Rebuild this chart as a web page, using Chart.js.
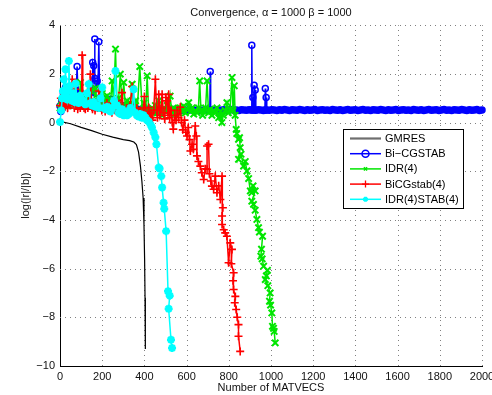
<!DOCTYPE html>
<html>
<head>
<meta charset="utf-8">
<script src="https://cdn.jsdelivr.net/npm/chart.js@4.4.1/dist/chart.umd.min.js"></script>
<style>
html, body { margin: 0; padding: 0; background: #fff; }
#wrap { width: 492px; height: 395px; }
</style>
</head>
<body>
<div id="wrap"><canvas id="conv"></canvas></div>
<script>
// residual histories, [matvecs, log10(|r|/|b|)]
const gmresPts = [
  [0,0.05],[50,-0.05],[100,-0.2],[150,-0.33],[200,-0.48],[250,-0.6],[300,-0.7],[330,-0.74],[350,-0.8],
  [362,-0.9],[372,-1.2],[381,-1.77],[388,-2.4],[394,-3.1],[398,-4.2],[401,-5.6],[403,-7.2],[404,-8.4],[405,-9.3]
];

const bicgstabPts = [
  [0,0.68],[4,0.45],[8,0.9],[12,0.6],[16,1.2],[20,0.8],[26,1.44],[30,0.9],[36,1.1],[42,0.8],[48,1.3],[54,0.9],
  [60,1.1],[66,0.8],[72,1.4],[76,1.0],[81,2.3],[86,1.0],[92,0.8],[98,1.2],[104,0.9],[110,0.7],[116,1.0],[122,0.8],
  [128,1.1],[134,0.9],[140,1.2],[146,0.8],[152,1.3],[155,2.47],[160,2.33],[163,1.6],[165,3.43],[165,1.81],[170,1.2],
  [176,1.71],[180,1.4],[184,3.32],[188,1.0],[194,0.8],[200,0.9],[206,0.7],[215,0.96],[222,0.6],[230,0.8],[239,0.96],
  [246,0.6],[254,0.7],[262,0.55],[270,0.75],[278,0.6],[286,0.5],[294,0.7],[302,0.55],[310,0.6],[318,0.5],[326,0.65],
  [334,0.55],[342,0.5],[350,0.6],[358,0.5],[368,0.55],
  [380,0.52],[392,0.5],[404,0.54],[416,0.51],[428,0.53],[440,0.49],[452,0.52],[464,0.55],[476,0.5],[488,0.52],
  [500,0.53],[512,0.5],[524,0.52],[536,0.54],[548,0.51],[560,0.52],[572,0.5],[584,0.53],[596,0.52],[608,0.5],
  [620,0.54],[632,0.52],[644,0.51],[656,0.53],[668,0.5],[680,0.52],[692,0.54],[704,0.51],[710,0.52],[712,2.1],
  [714,0.52],[728,0.5],[740,0.53],[752,0.52],[764,0.51],[776,0.53],[788,0.5],[800,0.52],[812,0.54],[824,0.51],
  [836,0.52],[848,0.5],[860,0.53],[872,0.52],[884,0.51],[896,0.53],[906,0.52],[909,3.18],[911,0.52],[914,1.03],
  [917,0.52],[920,1.53],[923,0.52],[925,1.34],[928,0.51],[940,0.53],[952,0.52],[964,0.5],[971,0.52],[973,1.4],
  [975,0.52],[977,1.03],[980,0.52],[992,0.51],[1004,0.53],[1016,0.52],[1028,0.5],[1040,0.53],[1052,0.51],
  [1064,0.54],[1076,0.52],[1088,0.5],[1100,0.53],[1112,0.52],[1124,0.51],[1136,0.54],[1148,0.52],[1160,0.5],
  [1172,0.53],[1184,0.51],[1196,0.52],[1208,0.54],[1220,0.5],[1232,0.52],[1244,0.53],[1256,0.51],[1268,0.52],
  [1280,0.5],[1292,0.54],[1304,0.52],[1316,0.51],[1328,0.53],[1340,0.5],[1352,0.52],[1364,0.54],[1376,0.51],
  [1388,0.52],[1400,0.53],[1412,0.5],[1424,0.52],[1436,0.54],[1448,0.51],[1460,0.52],[1472,0.5],[1484,0.53],
  [1496,0.52],[1508,0.51],[1520,0.54],[1532,0.52],[1544,0.5],[1556,0.53],[1568,0.51],[1580,0.52],[1592,0.54],
  [1604,0.5],[1616,0.52],[1628,0.53],[1640,0.51],[1652,0.52],[1664,0.5],[1676,0.54],[1688,0.52],[1700,0.51],
  [1712,0.53],[1724,0.5],[1736,0.52],[1748,0.54],[1760,0.51],[1772,0.52],[1784,0.53],[1796,0.5],[1808,0.52],
  [1820,0.54],[1832,0.51],[1844,0.52],[1856,0.5],[1868,0.53],[1880,0.52],[1892,0.51],[1904,0.54],[1916,0.52],
  [1928,0.5],[1940,0.53],[1952,0.51],[1964,0.52],[1976,0.54],[1988,0.5],[2000,0.52]
];

const idrPts = [
  [0,0.6],[6,0.9],[12,0.7],[20,1.0],[28,0.8],[36,1.2],[44,0.7],[52,0.9],[60,1.3],[68,0.8],[76,1.1],[84,0.7],
  [92,1.0],[97,1.65],[104,0.8],[112,1.2],[120,0.7],[128,1.0],[136,0.8],[144,1.3],[152,0.7],[160,0.9],[168,1.4],
  [176,0.8],[184,1.0],[192,0.7],[200,1.2],[208,0.8],[216,0.9],[224,1.1],[232,0.7],[240,0.9],[247,1.71],[254,0.8],
  [263,3.02],[270,0.7],[278,1.0],[286,1.99],[294,0.7],[302,1.65],[310,0.6],[318,0.9],[326,0.5],[334,0.8],
  [342,1.58],[350,0.6],[358,0.9],[366,0.5],[378,2.3],[390,0.5],[398,0.8],[406,0.4],[413,1.92],[420,0.5],
  [428,0.3],[436,0.6],[444,0.4],[452,0.7],[460,0.4],[468,0.9],[476,0.5],[484,0.3],[492,0.6],[500,0.45],[508,0.7],
  [515,0.5],[522,1.09],[530,0.4],[538,0.6],[546,0.35],[554,0.55],[562,0.4],[570,0.6],[578,0.45],[586,0.68],
  [594,0.4],[602,0.55],[610,0.82],[618,0.45],[626,0.6],[634,0.35],[642,0.5],[650,0.4],[656,0.6],[662,1.71],
  [668,0.5],[676,0.3],[684,0.45],[690,0.6],[697,1.71],[704,0.4],[712,0.55],[720,0.3],[728,0.5],[736,0.4],
  [744,0.6],[752,0.2],[760,0.45],[767,0.0],[774,0.3],[782,0.5],[791,0.82],[798,0.4],[806,0.55],[815,1.85],
  [820,0.5],[826,1.51],[830,0.3],[835,-0.28],[838,-0.45],[846,-0.69],[851,-0.62],[854,-1.03],[846,-1.51],
  [858,-1.3],[870,-1.79],[878,-1.6],[886,-1.99],[894,-2.3],[902,-2.81],[909,-2.88],[915,-2.6],[925,-2.81],
  [909,-3.23],[917,-3.36],[925,-3.6],[933,-3.98],[941,-4.32],[945,-4.5],[960,-4.67],[955,-5.2],[952,-5.49],
  [958,-5.6],[965,-5.9],[983,-6.07],[978,-6.3],[973,-6.45],[985,-6.7],[996,-7.0],[993,-7.34],[998,-7.5],
  [1004,-7.82],[1007,-8.37],[1012,-8.45],[1015,-8.58],[1020,-9.05]
];

const bicgstab4Pts = [
  [0,0.7],[4,1.0],[8,0.6],[12,0.9],[16,0.75],[20,1.2],[24,0.65],[30,0.9],[36,0.6],[42,1.1],[48,0.7],[54,0.85],
  [58,1.78],[62,0.8],[68,0.6],[73,1.37],[78,0.7],[84,0.55],[90,0.9],[96,0.6],[102,0.8],[105,2.77],[108,1.0],
  [114,0.6],[120,0.55],[126,0.8],[132,0.6],[138,0.9],[144,1.99],[148,0.9],[154,0.55],[160,0.7],[166,0.5],[172,0.8],
  [178,0.6],[184,1.3],[190,0.6],[198,0.5],[206,0.7],[214,0.45],[222,0.8],[230,0.5],[238,0.6],[246,0.4],[254,0.7],
  [262,0.5],[270,0.9],[278,0.5],[286,0.6],[294,1.23],[300,0.5],[308,0.4],[316,0.6],[324,0.45],[332,0.7],[342,1.48],
  [348,0.5],[356,0.35],[364,0.6],[372,0.4],[380,0.5],[388,0.3],[396,0.6],[400,1.07],[406,0.4],[414,0.3],[420,0.62],
  [426,0.2],[432,0.4],[438,0.1],[444,0.5],[452,1.78],[458,0.5],[462,0.2],[468,1.16],[474,0.3],[480,0.6],[484,1.16],
  [490,0.4],[496,0.15],[502,1.03],[507,0.89],[512,0.3],[515,1.16],[520,0.2],[526,0.5],[532,0.0],[537,-0.27],
  [544,0.3],[550,0.1],[556,0.5],[562,0.2],[570,0.63],[576,0.0],[582,-0.3],[590,0.1],[596,-0.4],[602,-0.55],
  [608,-0.2],[614,-0.7],[618,-1.17],[626,-0.89],[632,-1.1],[641,-0.14],[646,-0.55],[649,-1.37],[656,-1.6],
  [665,-1.79],[672,-2.06],[681,-2.34],[688,-1.9],[697,-1.92],[697,-0.96],[704,-0.89],[708,-2.1],[715,-2.4],
  [720,-2.61],[728,-2.74],[736,-2.2],[744,-2.88],[752,-2.6],[760,-3.16],[768,-2.2],[768,-3.84],[772,-3.5],
  [768,-4.19],[776,-4.4],[783,-4.53],[791,-4.67],[799,-5.76],[807,-4.94],[815,-5.21],[812,-5.8],[823,-6.17],
  [820,-6.5],[823,-6.86],[831,-7.14],[828,-7.4],[835,-7.68],[840,-8.0],[846,-8.3],[846,-8.78],[854,-9.4]
];

const idrstabPts = [
  [0,0.02],[6,0.5],[10,1.0],[14,1.3],[18,1.78],[22,1.1],[26,2.19],[30,1.2],[34,0.95],[38,1.4],[42,2.53],[46,1.5],
  [50,1.0],[56,0.9],[62,1.2],[68,0.85],[74,1.6],[80,0.95],[88,0.8],[96,1.1],[104,0.85],[112,0.9],[120,0.75],
  [128,1.2],[136,1.58],[144,0.8],[152,0.7],[160,0.85],[168,0.65],[176,0.7],[184,0.6],[192,1.0],[200,1.44],
  [208,0.6],[216,0.55],[224,0.65],[232,0.5],[240,0.45],[248,0.6],[256,0.9],[263,2.12],[270,0.7],[278,0.4],
  [286,0.35],[294,0.55],[302,0.3],[310,0.45],[318,0.3],[326,0.35],[334,0.6],[342,0.5],[349,1.37],[356,0.4],
  [364,0.3],[372,0.25],[380,0.35],[388,0.2],[396,0.3],[405,0.2],[412,0.1],[420,0.05],[430,-0.1],[436,-0.2],
  [444,-0.41],[452,-0.6],[457,-0.89],[468,-1.85],[472,-1.89],[480,-2.2],[484,-2.67],[491,-3.29],[494,-3.54],
  [503,-4.46],[512,-6.93],[520,-7.11],[515,-7.65],[526,-8.92],[531,-9.26]
];

const seriesNames = ['GMRES', 'Bi\u2212CGSTAB', 'IDR(4)', 'BiCGstab(4)', 'IDR(4)STAB(4)'];
const seriesColors = ['#000000', '#0000ff', '#00e600', '#ff0000', '#00ffff'];
const xTickStep = 200, yTickStep = 2;

const FONT = '"Liberation Sans", Arial, Helvetica, sans-serif';
const TEXT = '#111';
const BLUE = seriesColors[1];

const toXY = pts => pts.map(p => ({ x: p[0], y: p[1] }));

// small marker used in the boxed legend
function drawMarker(ctx, style, x, y, r) {
  ctx.beginPath();
  if (style === 'circle') {
    ctx.arc(x, y, r, 0, Math.PI * 2);
  }
  if (style === 'cross' || style === 'star') {
    ctx.moveTo(x - r, y); ctx.lineTo(x + r, y);
    ctx.moveTo(x, y - r); ctx.lineTo(x, y + r);
  }
  if (style === 'crossRot' || style === 'star') {
    const d = r * 0.72;
    ctx.moveTo(x - d, y - d); ctx.lineTo(x + d, y + d);
    ctx.moveTo(x - d, y + d); ctx.lineTo(x + d, y - d);
  }
  ctx.stroke();
}

// dotted grid at every tick, drawn under the curves
const dottedGrid = {
  id: 'dottedGrid',
  beforeDatasetsDraw(chart) {
    const { ctx, chartArea: a, scales } = chart;
    ctx.save();
    ctx.strokeStyle = '#808080';
    ctx.lineWidth = 1;
    ctx.setLineDash([1, 4]);
    scales.x.ticks.forEach(t => {
      const px = Math.round(scales.x.getPixelForValue(t.value)) + 0.5;
      if (t.value === scales.x.min) return;
      ctx.beginPath(); ctx.moveTo(px, a.bottom); ctx.lineTo(px, a.top); ctx.stroke();
    });
    scales.y.ticks.forEach(t => {
      const py = Math.round(scales.y.getPixelForValue(t.value)) + 0.5;
      if (t.value === scales.y.min) return;
      ctx.beginPath(); ctx.moveTo(a.left, py); ctx.lineTo(a.right, py); ctx.stroke();
    });
    ctx.restore();
  }
};

const boxLegend = {
  id: 'boxLegend',
  afterDraw(chart) {
    const ctx = chart.ctx;
    const x0 = 343, y0 = 129, w = 120, h = 79;
    ctx.save();
    ctx.fillStyle = '#fff';
    ctx.fillRect(x0, y0, w, h);
    ctx.strokeStyle = '#000';
    ctx.lineWidth = 1;
    ctx.strokeRect(x0 + 0.5, y0 + 0.5, w, h);
    ctx.font = '11px ' + FONT;
    ctx.textBaseline = 'middle';
    chart.data.datasets.forEach((ds, i) => {
      const y = y0 + 9.5 + i * 15.2;
      ctx.strokeStyle = ds.legendLine || ds.borderColor;
      ctx.lineWidth = i === 0 ? 2.2 : 1.5;
      ctx.beginPath();
      ctx.moveTo(x0 + 7, y);
      ctx.lineTo(x0 + 38, y);
      ctx.stroke();
      if (ds.pointRadius > 0) {
        ctx.strokeStyle = ds.borderColor;
        ctx.lineWidth = ds.legendMarker.w;
        drawMarker(ctx, ds.pointStyle, x0 + 22.5, y, ds.legendMarker.r);
      }
      ctx.fillStyle = '#000';
      ctx.fillText(ds.label, x0 + 42, y + 0.5);
    });
    ctx.restore();
  }
};

const datasets = [
  {
    label: seriesNames[0], data: toXY(gmresPts), order: 5,
    borderColor: seriesColors[0], borderWidth: 1.2, pointRadius: 0, legendLine: '#6e6e6e'
  },
  {
    label: seriesNames[1], data: toXY(bicgstabPts), order: 4,
    borderColor: BLUE, borderWidth: 1.5,
    pointStyle: 'circle', pointRadius: 3, pointBorderWidth: 1.5, pointBorderColor: BLUE,
    // the tightly packed circles along the plateau merge into a solid band
    pointBackgroundColor: c => (c.raw && c.raw.x >= 370 && c.raw.y < 0.6) ? BLUE : 'rgba(0,0,0,0)',
    legendMarker: { r: 3.5, w: 1.5 }
  },
  {
    label: seriesNames[2], data: toXY(idrPts), order: 3,
    borderColor: seriesColors[2], borderWidth: 1.5,
    pointStyle: 'crossRot', pointRadius: 4.5, pointBorderWidth: 2,
    pointBorderColor: seriesColors[2],
    legendMarker: { r: 2.2, w: 1.5 }
  },
  {
    label: seriesNames[3], data: toXY(bicgstab4Pts), order: 2,
    borderColor: seriesColors[3], borderWidth: 1.5,
    pointStyle: 'cross', pointRadius: 4, pointBorderWidth: 1.6,
    pointBorderColor: seriesColors[3],
    legendMarker: { r: 3.5, w: 1.3 }
  },
  {
    label: seriesNames[4], data: toXY(idrstabPts), order: 1,
    borderColor: seriesColors[4], borderWidth: 1.5,
    pointStyle: 'star', pointRadius: 4, pointBorderWidth: 2.5,
    pointBorderColor: seriesColors[4],
    legendMarker: { r: 2.5, w: 2 }
  }
];

new Chart(document.getElementById('conv'), {
  type: 'scatter',
  data: { datasets: datasets.map(d => Object.assign({ showLine: true, fill: false, clip: false, tension: 0 }, d)) },
  options: {
    animation: false,
    responsive: true,
    maintainAspectRatio: false,
    layout: { padding: { left: 0, right: 10, top: 0, bottom: 0 } },
    plugins: {
      legend: { display: false },
      tooltip: { enabled: false },
      title: {
        display: true,
        fullSize: false,
        text: 'Convergence, \u03b1 = 1000 \u03b2 = 1000',
        color: TEXT,
        font: { family: FONT, size: 11, weight: 'normal', lineHeight: 1.2 },
        padding: { top: 6, bottom: 6 }
      }
    },
    scales: {
      x: {
        type: 'linear', min: 0, max: 2000,
        ticks: {
          stepSize: xTickStep, autoSkip: false, maxRotation: 0, padding: 4,
          color: TEXT, font: { family: FONT, size: 11 },
          callback: v => String(v)
        },
        grid: { display: false, drawTicks: false },
        border: { display: true, color: '#000', width: 1 },
        title: {
          display: true, text: 'Number of MATVECS', color: TEXT,
          font: { family: FONT, size: 11, lineHeight: 1.2 }, padding: { top: 0, bottom: 0 }
        },
        afterFit(s) { s.height = 29; s.paddingLeft = 0; s.paddingRight = 0; }
      },
      y: {
        type: 'linear', min: -10, max: 4,
        ticks: {
          stepSize: yTickStep, padding: 5, color: TEXT, font: { family: FONT, size: 11 },
          callback: v => String(v).replace('-', '\u2212')
        },
        grid: { display: false, drawTicks: false },
        border: { display: true, color: '#000', width: 1 },
        title: {
          display: true, text: 'log(|r|/|b|)', color: TEXT,
          font: { family: FONT, size: 11, lineHeight: 1.2 }, padding: { top: 19.4, bottom: 0 }
        },
        afterFit(s) { s.width = 60; s.paddingTop = 0; s.paddingBottom = 0; }
      }
    }
  },
  plugins: [dottedGrid, boxLegend]
});
</script>
</body>
</html>
